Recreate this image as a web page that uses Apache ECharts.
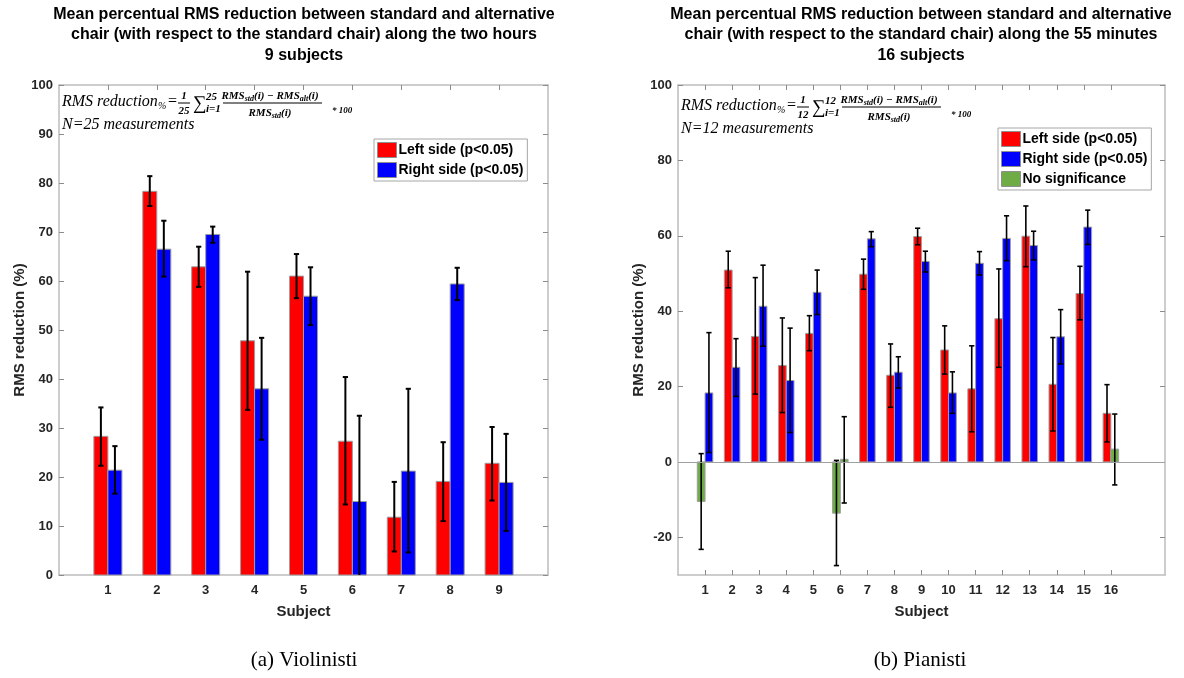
<!DOCTYPE html>
<html>
<head>
<meta charset="utf-8">
<script src="https://cdn.jsdelivr.net/npm/echarts@6/dist/echarts.min.js"></script>
<style>
html, body { margin: 0; padding: 0; background: #fff; }
#chart { width: 1184px; height: 678px; }
</style>
</head>
<body>
<div id="chart"></div>
<script>
// (a) violinists, 9 subjects
var violinSubjects = [1, 2, 3, 4, 5, 6, 7, 8, 9];
var violinLeftMean = [28.3, 78.3, 62.9, 47.8, 61.0, 27.3, 11.8, 19.1, 22.8];
var violinLeftLow = [22.3, 75.3, 58.8, 33.7, 56.5, 14.4, 4.8, 11.0, 15.2];
var violinLeftHigh = [34.2, 81.4, 67.0, 61.9, 65.5, 40.4, 19.0, 27.1, 30.2];
var violinRightMean = [21.4, 66.5, 69.5, 38.0, 56.9, 15.0, 21.2, 59.4, 18.9];
var violinRightLow = [16.6, 60.9, 67.8, 27.6, 51.0, -2.5, 4.6, 56.1, 9.0];
var violinRightHigh = [26.3, 72.3, 71.1, 48.4, 62.8, 32.5, 38.0, 62.7, 28.8];
var violinYTicks = [0, 10, 20, 30, 40, 50, 60, 70, 80, 90, 100];

// (b) pianists, 16 subjects
var pianoSubjects = [1, 2, 3, 4, 5, 6, 7, 8, 9, 10, 11, 12, 13, 14, 15, 16];
var pianoLeftMean = [-10.5, 50.9, 33.3, 25.6, 34.1, -13.6, 49.8, 23.0, 59.8, 29.7, 19.4, 38.0, 59.9, 20.6, 44.7, 12.9];
var pianoLeftLow = [-23.2, 46.2, 18.0, 13.1, 29.5, -27.5, 45.8, 14.5, 57.6, 23.3, 8.0, 25.1, 51.8, 8.2, 37.7, 5.3];
var pianoLeftHigh = [2.2, 55.9, 48.9, 38.2, 38.8, 0.4, 53.8, 31.3, 62.0, 36.1, 30.8, 51.2, 67.9, 33.0, 51.9, 20.5];
var pianoRightMean = [18.3, 25.1, 41.3, 21.6, 45.0, 0.7, 59.2, 23.8, 53.2, 18.3, 52.7, 59.3, 57.4, 33.2, 62.3, 3.4];
var pianoRightLow = [2.5, 17.4, 30.7, 7.8, 39.1, -10.9, 57.1, 19.6, 50.4, 12.9, 49.6, 53.4, 53.6, 26.0, 57.7, -6.1];
var pianoRightHigh = [34.3, 32.7, 52.2, 35.5, 50.9, 12.0, 61.1, 27.9, 55.9, 23.9, 55.8, 65.3, 61.2, 40.4, 66.8, 12.7];
var pianoLeftSig = [0, 1, 1, 1, 1, 0, 1, 1, 1, 1, 1, 1, 1, 1, 1, 1];
var pianoRightSig = [1, 1, 1, 1, 1, 0, 1, 1, 1, 1, 1, 1, 1, 1, 1, 0];
var pianoYTicks = [-20, 0, 20, 40, 60, 80, 100];

var LEFT_NAME = 'Left side (p<0.05)';
var RIGHT_NAME = 'Right side (p<0.05)';
var NOSIG_NAME = 'No significance';
var BW = 0.287; // width of one bar, in subject units
var AXIS_GRAY = '#bdbdbd';
var TXT = '#262626';

// [x, value, side]  side 0 = left half, 1 = right half
function barData(subjects, mean, side, sig, keep) {
    var out = [];
    subjects.forEach((s, i) => {
        var isSig = sig ? sig[i] === 1 : true;
        if (isSig === keep) out.push([s, mean[i], side]);
    });
    return out;
}

function errData(subjects, low, high, side) {
    return subjects.map((s, i) => [s, side, low[i], high[i]]);
}

function renderBar(params, api) {
    var x = api.value(0), y = api.value(1), side = api.value(2);
    var x0 = side === 0 ? x - BW : x;
    var p0 = api.coord([x0, 0]);
    var p1 = api.coord([x0 + BW, y]);
    return {
        type: 'rect',
        shape: { x: p0[0], y: Math.min(p0[1], p1[1]), width: p1[0] - p0[0], height: Math.abs(p1[1] - p0[1]) },
        style: { fill: api.visual('color'), stroke: '#9e9e9e', lineWidth: 1 }
    };
}

function makeErr(lw) {
    return function(params, api) {
        var xc = api.value(0) + (api.value(1) === 0 ? -BW / 2 : BW / 2);
        var lo = api.coord([xc, api.value(2)]);
        var hi = api.coord([xc, api.value(3)]);
        var cap = 2.6;
        var st = { stroke: '#000', lineWidth: lw };
        return {
            type: 'group',
            children: [
                { type: 'line', shape: { x1: lo[0], y1: lo[1], x2: hi[0], y2: hi[1] }, style: st },
                { type: 'line', shape: { x1: lo[0] - cap, y1: lo[1], x2: lo[0] + cap, y2: lo[1] }, style: st },
                { type: 'line', shape: { x1: hi[0] - cap, y1: hi[1], x2: hi[0] + cap, y2: hi[1] }, style: st }
            ]
        };
    };
}

function xAxes(grid, max, ticks) {
    var base = {
        gridIndex: grid, type: 'value', min: 0, max: max,
        axisLine: { onZero: false, lineStyle: { color: AXIS_GRAY, width: 1.5 } },
        axisTick: { inside: true, length: 5, customValues: ticks, lineStyle: { color: '#8c8c8c' } },
        splitLine: { show: false }
    };
    return [
        Object.assign({}, base, {
            position: 'bottom',
            axisLabel: { customValues: ticks, color: TXT, fontWeight: 'bold', fontSize: 13, margin: 9, fontFamily: 'Liberation Sans' },
            name: 'Subject', nameLocation: 'middle', nameGap: 29,
            nameTextStyle: { color: TXT, fontWeight: 'bold', fontSize: 15, fontFamily: 'Liberation Sans' }
        }),
        Object.assign({}, base, { position: 'top', axisLabel: { show: false } })
    ];
}

function yAxes(grid, min, max, ticks) {
    var base = {
        gridIndex: grid, type: 'value', min: min, max: max,
        axisLine: { onZero: false, lineStyle: { color: AXIS_GRAY, width: 1.5 } },
        axisTick: { inside: true, length: 5, customValues: ticks, lineStyle: { color: '#8c8c8c' } },
        splitLine: { show: false }
    };
    return [
        Object.assign({}, base, {
            position: 'left',
            axisLabel: { customValues: ticks, color: TXT, fontWeight: 'bold', fontSize: 13, margin: 6, fontFamily: 'Liberation Sans' },
            name: 'RMS reduction (%)', nameLocation: 'middle', nameGap: 32, nameRotate: 90,
            nameTextStyle: { color: TXT, fontWeight: 'bold', fontSize: 15, fontFamily: 'Liberation Sans' }
        }),
        Object.assign({}, base, { position: 'right', axisLabel: { show: false } })
    ];
}

function formula(dx, dy, n) {
    var it = 'italic 16px "Liberation Serif"';
    var sm = 'italic bold 11px "Liberation Serif"';
    function t(x, y, text, font, align) {
        return { type: 'text', x: x + dx, y: y + dy, silent: true,
            style: { text: text, font: font, fill: '#000', textAlign: align || 'left', textVerticalAlign: 'middle' } };
    }
    function ln(x1, x2, y) {
        return { type: 'line', silent: true, shape: { x1: x1 + dx, y1: y + dy, x2: x2 + dx, y2: y + dy },
            style: { stroke: '#000', lineWidth: 1 } };
    }
    var richFrac = {
        a: { font: 'italic bold 11px "Liberation Serif"', fill: '#000' },
        s: { font: 'italic bold 8px "Liberation Serif"', fill: '#000', padding: [5, 0, 0, 0] }
    };
    return [
        t(62, 102, 'RMS reduction', it),
        t(158, 106, '%', 'italic 10px "Liberation Serif"'),
        t(168, 102, '=', '16px "Liberation Serif"'),
        t(184, 96, '1', sm, 'center'),
        ln(178, 190, 103),
        t(184, 111, n, sm, 'center'),
        t(193, 104, '\u2211', '19px "Liberation Serif"'),
        t(206, 97, n, sm),
        t(206, 109, 'i=1', sm),
        { type: 'text', x: 270 + dx, y: 96 + dy, silent: true,
          style: { text: '{a|RMS}{s|std}{a|(i) \u2212 RMS}{s|alt}{a|(i)}', rich: richFrac, textAlign: 'center', textVerticalAlign: 'middle' } },
        ln(223, 322, 103),
        { type: 'text', x: 270 + dx, y: 113 + dy, silent: true,
          style: { text: '{a|RMS}{s|std}{a|(i)}', rich: richFrac, textAlign: 'center', textVerticalAlign: 'middle' } },
        t(332, 111, '* 100', 'italic bold 9px "Liberation Serif"'),
        t(62, 125, 'N=' + n + ' measurements', it)
    ];
}

var titleFont = 'bold 16px "Liberation Sans"';
var graphics = [
    { type: 'text', x: 304, y: 4, silent: true,
      style: { text: 'Mean percentual RMS reduction between standard and alternative\nchair (with respect to the standard chair) along the two hours\n9 subjects',
               font: titleFont, fill: '#000', textAlign: 'center', lineHeight: 20.5 } },
    { type: 'text', x: 921, y: 4, silent: true,
      style: { text: 'Mean percentual RMS reduction between standard and alternative\nchair (with respect to the standard chair) along the 55 minutes\n16 subjects',
               font: titleFont, fill: '#000', textAlign: 'center', lineHeight: 20.5 } },
    { type: 'text', x: 304, y: 660, silent: true,
      style: { text: '(a) Violinisti', font: '21px "Liberation Serif"', fill: '#000', textAlign: 'center', textVerticalAlign: 'middle' } },
    { type: 'text', x: 920, y: 660, silent: true,
      style: { text: '(b) Pianisti', font: '21px "Liberation Serif"', fill: '#000', textAlign: 'center', textVerticalAlign: 'middle' } }
].concat(formula(0, 0, '25'), formula(619, 4, '12'));

var legendBase = {
    orient: 'vertical', itemWidth: 19, itemHeight: 15, itemGap: 4,
    borderColor: '#a6a6a6', borderWidth: 1, padding: [3, 4, 3, 3], backgroundColor: '#fff',
    itemStyle: { borderColor: '#8f8f8f', borderWidth: 1 },
    textStyle: { color: '#000', fontWeight: 'bold', fontSize: 14, fontFamily: 'Liberation Sans', padding: [0, 0, 0, -3] },
    selectedMode: false
};

var chart = echarts.init(document.getElementById('chart'));
chart.setOption({
    animation: false,
    backgroundColor: '#fff',
    grid: [
        { left: 59, top: 85, width: 489, height: 490 },
        { left: 678, top: 85, width: 487, height: 490 }
    ],
    xAxis: xAxes(0, 10, violinSubjects).concat(xAxes(1, 18, pianoSubjects)),
    yAxis: yAxes(0, 0, 100, violinYTicks).concat(yAxes(1, -30, 100, pianoYTicks)),
    legend: [
        Object.assign({}, legendBase, { left: 374, top: 139, data: [{ name: LEFT_NAME, icon: 'rect' }, { name: RIGHT_NAME, icon: 'rect' }] }),
        Object.assign({}, legendBase, { left: 998, top: 128, data: [{ name: LEFT_NAME, icon: 'rect' }, { name: RIGHT_NAME, icon: 'rect' }, { name: NOSIG_NAME, icon: 'rect' }] })
    ],
    graphic: graphics,
    series: [
        { name: LEFT_NAME, type: 'custom', xAxisIndex: 0, yAxisIndex: 0, color: '#ff0000', renderItem: renderBar,
          encode: { x: 0, y: 1 }, data: barData(violinSubjects, violinLeftMean, 0, null, true) },
        { name: RIGHT_NAME, type: 'custom', xAxisIndex: 0, yAxisIndex: 0, color: '#0000ff', renderItem: renderBar,
          encode: { x: 0, y: 1 }, data: barData(violinSubjects, violinRightMean, 1, null, true) },
        { type: 'custom', xAxisIndex: 0, yAxisIndex: 0, renderItem: makeErr(2), clip: true, silent: true,
          encode: { x: 0, y: [2, 3] }, data: errData(violinSubjects, violinLeftLow, violinLeftHigh, 0).concat(errData(violinSubjects, violinRightLow, violinRightHigh, 1)) },

        { name: LEFT_NAME, type: 'custom', xAxisIndex: 2, yAxisIndex: 2, color: '#ff0000', renderItem: renderBar,
          encode: { x: 0, y: 1 }, data: barData(pianoSubjects, pianoLeftMean, 0, pianoLeftSig, true),
          markLine: { silent: true, symbol: 'none', label: { show: false }, lineStyle: { color: '#a0a0a0', type: 'solid', width: 1.2 }, data: [{ yAxis: 0 }] } },
        { name: RIGHT_NAME, type: 'custom', xAxisIndex: 2, yAxisIndex: 2, color: '#0000ff', renderItem: renderBar,
          encode: { x: 0, y: 1 }, data: barData(pianoSubjects, pianoRightMean, 1, pianoRightSig, true) },
        { name: NOSIG_NAME, type: 'custom', xAxisIndex: 2, yAxisIndex: 2, color: '#6fac46', renderItem: renderBar,
          encode: { x: 0, y: 1 }, data: barData(pianoSubjects, pianoLeftMean, 0, pianoLeftSig, false).concat(barData(pianoSubjects, pianoRightMean, 1, pianoRightSig, false)) },
        { type: 'custom', xAxisIndex: 2, yAxisIndex: 2, renderItem: makeErr(1.6), clip: true, silent: true,
          encode: { x: 0, y: [2, 3] }, data: errData(pianoSubjects, pianoLeftLow, pianoLeftHigh, 0).concat(errData(pianoSubjects, pianoRightLow, pianoRightHigh, 1)) }
    ]
});
</script>
</body>
</html>
